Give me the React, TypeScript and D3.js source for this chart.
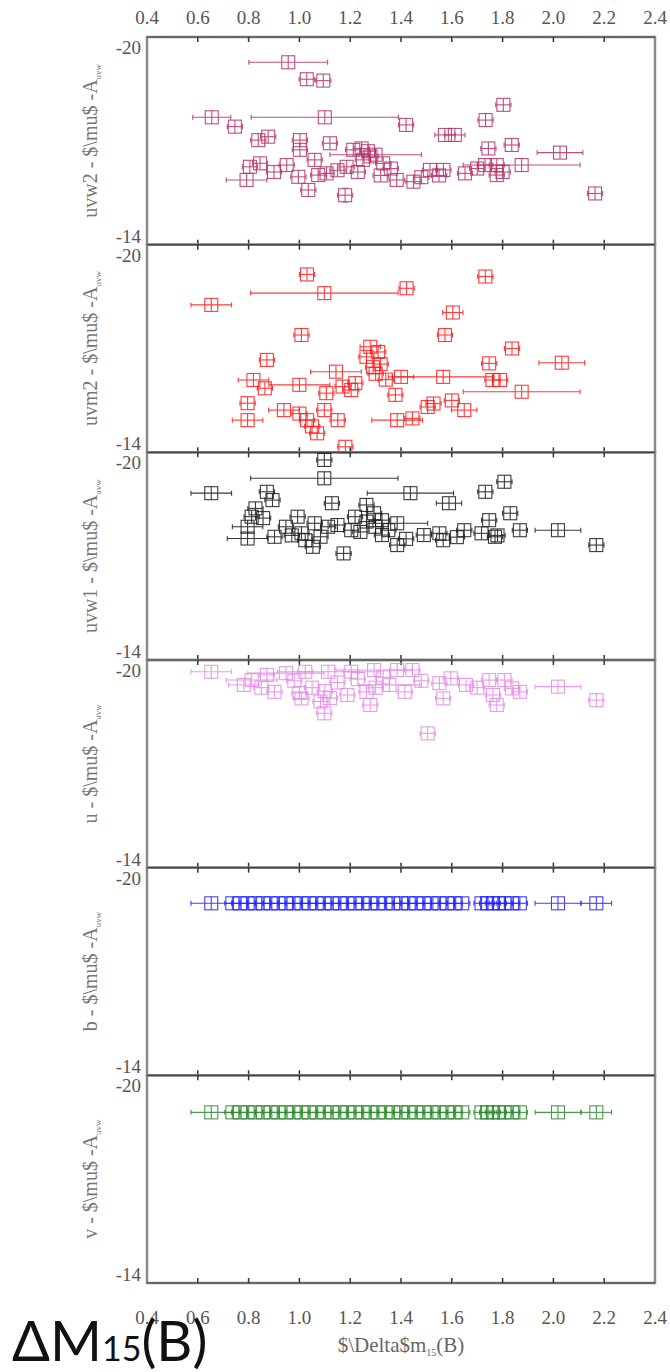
import React from "react";
import * as d3 from "d3";

// [dm15(B), mag, dm15 err, mag err]
type Pt = [number, number, number?, number?];

const xTicks = [0.4, 0.6, 0.8, 1.0, 1.2, 1.4, 1.6, 1.8, 2.0, 2.2, 2.4];
const yTicks = [-20, -14];

const uvw2Pts: Pt[] = [
  [0.956, -19.27, 0.155, 0.12], [1.029, -18.78], [1.094, -18.74], [0.655, -17.68, 0.075],
  [0.746, -17.41], [1.10, -17.68, 0.29], [1.42, -17.46], [1.803, -18.04], [1.733, -17.6, 0.03, 0.12],
  [1.573, -17.17, 0.04], [1.612, -17.17, 0.04], [1.836, -16.88], [1.744, -16.78], [2.026, -16.66, 0.09],
  [2.164, -15.48], [1.875, -16.3, 0.23], [1.777, -16.3], [1.731, -16.3], [1.777, -16.01, 0.03, 0.12],
  [1.652, -16.06], [1.567, -16.16], [1.514, -16.16], [1.449, -15.82], [1.383, -15.87], [1.18, -15.43, 0.03, 0.2],
  [1.245, -16.78], [1.30, -16.6, 0.18], [0.838, -17.02], [0.877, -17.12], [1.002, -17.02], [1.002, -16.74],
  [1.12, -16.93], [0.805, -16.25], [0.792, -15.87, 0.08], [0.845, -16.35], [0.95, -16.3], [0.996, -15.96],
  [1.035, -15.58], [1.074, -16.01], [1.107, -16.06], [1.186, -16.25], [1.212, -16.74], [1.25, -16.45],
  [1.28, -16.55], [1.33, -16.35], [1.36, -16.2], [1.15, -16.15], [1.06, -16.45], [1.23, -16.1],
  [0.9, -16.1], [1.48, -15.95], [1.55, -16.0], [1.70, -16.2], [1.80, -16.1], [1.27, -16.7], [1.32, -16.0],
];

const uvm2Pts: Pt[] = [
  [1.030, -19.14], [1.098, -18.6, 0.29], [1.422, -18.74], [0.653, -18.26, 0.08], [1.732, -19.08, 0.03, 0.15],
  [1.604, -18.04, 0.04], [1.573, -17.39], [1.008, -17.39], [0.872, -16.67], [1.279, -17.05, 0.04, 0.08],
  [1.837, -17.0], [2.033, -16.59, 0.09], [1.747, -16.57], [1.566, -16.18, 0.2], [1.76, -16.09], [1.79, -16.09],
  [1.875, -15.75, 0.23], [1.144, -16.33, 0.1], [1.264, -16.76], [1.29, -16.46], [1.30, -16.27], [1.40, -16.18, 0.05],
  [1.378, -15.66], [1.204, -15.8], [1.106, -15.71], [1.0, -15.95, 0.12], [0.819, -16.09, 0.06], [0.864, -15.85],
  [0.796, -15.42], [0.796, -14.93, 0.06], [0.939, -15.22, 0.06], [1.0, -15.12], [1.03, -14.93], [1.07, -14.55],
  [1.098, -15.22], [1.151, -14.93], [1.181, -14.16, 0.03, 0.1], [1.385, -14.93, 0.1], [1.445, -14.98],
  [1.505, -15.31], [1.528, -15.41], [1.649, -15.22, 0.05], [1.22, -16.0], [1.32, -16.55], [1.31, -16.9],
  [1.34, -16.1], [1.05, -14.75], [1.6, -15.5], [1.17, -15.9],
];

const uvw1Pts: Pt[] = [
  [1.098, -19.78], [1.098, -19.25, 0.29], [0.653, -18.82, 0.08], [0.872, -18.86], [0.894, -18.62],
  [1.437, -18.82, 0.17], [1.807, -19.15], [1.732, -18.86, 0.03, 0.1], [1.589, -18.53, 0.05], [1.83, -18.24],
  [2.018, -17.75, 0.09], [2.169, -17.32], [1.868, -17.75], [1.747, -18.04], [1.77, -17.56], [1.717, -17.66],
  [1.649, -17.75], [1.551, -17.66], [1.566, -17.46], [1.49, -17.61], [1.385, -17.32], [1.385, -17.95, 0.12],
  [1.264, -18.48], [1.294, -18.24], [1.325, -18.04], [1.264, -18.0], [1.219, -18.14], [1.204, -17.75],
  [1.174, -17.08, 0.03, 0.12], [1.128, -18.53], [1.113, -17.85], [1.083, -17.56], [1.053, -17.27],
  [0.993, -18.14], [1.008, -17.66], [1.023, -17.46], [0.947, -17.85], [0.827, -18.38], [0.812, -18.14],
  [0.796, -17.85, 0.06], [0.796, -17.51, 0.08], [0.857, -18.1], [0.902, -17.56], [1.325, -17.61],
  [1.15, -17.9], [1.24, -17.7], [1.3, -17.85], [1.35, -17.75], [1.06, -17.95], [0.97, -17.6], [1.42, -17.5],
  [1.62, -17.55], [1.78, -17.6],
];

const uPts: Pt[] = [
  [0.653, -19.66, 0.08], [1.596, -19.47], [1.566, -18.89], [2.018, -19.23, 0.09], [2.169, -18.84],
  [1.505, -17.88], [1.098, -18.46, 0.03, 0.1], [1.279, -18.7], [1.747, -19.42], [1.807, -19.42],
  [1.762, -18.99], [1.777, -18.7, 0.03, 0.1], [1.837, -19.18], [1.868, -19.08], [0.812, -19.42, 0.1],
  [0.872, -19.57], [0.947, -19.62, 0.15], [1.023, -19.66], [1.113, -19.66, 0.2], [1.204, -19.66],
  [1.294, -19.71, 0.15], [1.385, -19.71], [1.445, -19.71], [0.902, -19.08], [1.008, -18.89], [1.083, -18.8],
  [1.189, -18.99], [1.264, -19.08], [1.354, -19.28, 0.12], [1.415, -19.08], [1.656, -19.28], [1.551, -19.33],
  [0.781, -19.28, 0.06], [0.98, -19.4], [1.05, -19.2], [1.15, -19.35], [1.23, -19.45], [1.33, -19.5],
  [1.12, -18.9], [0.85, -19.2], [1.0, -19.05], [1.1, -19.1], [1.3, -19.2], [1.48, -19.4], [1.7, -19.2],
];

const bPts: Pt[] = [
  [0.653, -18.97, 0.08], [0.736, -18.97], [0.766, -18.97], [0.796, -18.97], [0.826, -18.97], [0.857, -18.97],
  [0.887, -18.97], [0.917, -18.97], [0.947, -18.97], [0.977, -18.97], [1.008, -18.97], [1.038, -18.97],
  [1.068, -18.97], [1.098, -18.97], [1.128, -18.97], [1.159, -18.97], [1.189, -18.97], [1.219, -18.97],
  [1.249, -18.97], [1.279, -18.97], [1.309, -18.97], [1.339, -18.97], [1.369, -18.97], [1.40, -18.97],
  [1.43, -18.97], [1.46, -18.97], [1.49, -18.97], [1.52, -18.97], [1.551, -18.97], [1.581, -18.97],
  [1.611, -18.97], [1.641, -18.97], [1.717, -18.97], [1.739, -18.97], [1.762, -18.97], [1.785, -18.97],
  [1.807, -18.97], [1.837, -18.97], [1.868, -18.97], [2.018, -18.97, 0.09], [2.169, -18.97, 0.06],
];

const vPts: Pt[] = [
  [0.653, -18.93, 0.08], [0.736, -18.93], [0.766, -18.93], [0.796, -18.93], [0.826, -18.93], [0.857, -18.93],
  [0.887, -18.93], [0.917, -18.93], [0.947, -18.93], [0.977, -18.93], [1.008, -18.93], [1.038, -18.93],
  [1.068, -18.93], [1.098, -18.93], [1.128, -18.93], [1.159, -18.93], [1.189, -18.93], [1.219, -18.93],
  [1.249, -18.93], [1.279, -18.93], [1.309, -18.93], [1.339, -18.93], [1.369, -18.93], [1.40, -18.93],
  [1.43, -18.93], [1.46, -18.93], [1.49, -18.93], [1.52, -18.93], [1.551, -18.93], [1.581, -18.93],
  [1.611, -18.93], [1.641, -18.93], [1.717, -18.93], [1.739, -18.93], [1.762, -18.93], [1.785, -18.93],
  [1.807, -18.93], [1.837, -18.93], [1.868, -18.93], [2.018, -18.93, 0.09], [2.169, -18.93, 0.06],
];

const panels = [
  { band: "uvw2", color: "#b5306a", pts: uvw2Pts },
  { band: "uvm2", color: "#ff1a1a", pts: uvm2Pts },
  { band: "uvw1", color: "#1a1a1a", pts: uvw1Pts },
  { band: "u", color: "#e58ae5", pts: uPts },
  { band: "b", color: "#1f1fff", pts: bPts },
  { band: "v", color: "#2a8a2a", pts: vPts },
];

const W = 670;
const H = 1372;
const left = 147;
const right = 655;
const top = 37;
const bottom = 1283;
const panelH = (bottom - top) / panels.length;
const serif = "'Liberation Serif', 'DejaVu Serif', serif";

const x = d3.scaleLinear().domain([0.4, 2.4]).range([left, right]);

const Marker = ({ p, y, color }: { p: Pt; y: d3.ScaleLinear<number, number>; color: string }) => {
  const [dm, mag, xe = 0.03, ye = 0.05] = p;
  const cx = x(dm);
  const cy = y(mag);
  const h = 6.5;
  const x0 = Math.min(x(dm - xe), cx - h);
  const x1 = Math.max(x(dm + xe), cx + h);
  const y0 = Math.min(y(mag - ye), cy - h);
  const y1 = Math.max(y(mag + ye), cy + h);
  return (
    <g stroke={color} fill="none" strokeWidth={1.1} opacity={0.85}>
      <rect x={cx - h} y={cy - h} width={2 * h} height={2 * h} />
      <line x1={x0} x2={x1} y1={cy} y2={cy} />
      <line x1={cx} x2={cx} y1={y0} y2={y1} />
      {x0 < cx - h && <line x1={x0} x2={x0} y1={cy - 2.5} y2={cy + 2.5} />}
      {x1 > cx + h && <line x1={x1} x2={x1} y1={cy - 2.5} y2={cy + 2.5} />}
      {y0 < cy - h && <line x1={cx - 2.5} x2={cx + 2.5} y1={y0} y2={y0} />}
      {y1 > cy + h && <line x1={cx - 2.5} x2={cx + 2.5} y1={y1} y2={y1} />}
    </g>
  );
};

export default function App() {
  return (
    <div style={{ position: "absolute", left: 0, top: 0 }}>
      <svg width={W} height={H} style={{ display: "block", background: "#fff" }}>
        {/* top tick labels */}
        {xTicks.map((t) => (
          <text key={"tt" + t} x={x(t)} y={24} textAnchor="middle" fontFamily={serif} fontSize={19} fill="#555">
            {t.toFixed(1)}
          </text>
        ))}
        {panels.map((pn, i) => {
          const t0 = top + i * panelH;
          const y = d3.scaleLinear().domain([-20, -14]).range([t0, t0 + panelH]);
          const cy = t0 + panelH / 2;
          return (
            <g key={pn.band}>
              <rect x={left} y={t0} width={right - left} height={panelH} fill="none" stroke="#8a8a8a" strokeWidth={2.5} />
              <line x1={left} x2={right} y1={t0} y2={t0} stroke="#444" strokeWidth={1.2} />
              <line x1={left} x2={right} y1={t0 + panelH} y2={t0 + panelH} stroke="#444" strokeWidth={1.2} />
              {xTicks.slice(1, -1).map((t) => (
                <g key={t} stroke="#333" strokeWidth={1.5}>
                  <line x1={x(t)} x2={x(t)} y1={t0} y2={t0 + 5} />
                  <line x1={x(t)} x2={x(t)} y1={t0 + panelH} y2={t0 + panelH - 5} />
                </g>
              ))}
              {yTicks.map((v) => (
                <text
                  key={v}
                  x={141}
                  y={v === -20 ? y(v) + 17 : y(v) - 2}
                  textAnchor="end"
                  fontFamily={serif}
                  fontSize={19}
                  fill="#555"
                >
                  {v}
                </text>
              ))}
              <text
                transform={`translate(97,${cy}) rotate(-90)`}
                textAnchor="middle"
                fontFamily={serif}
                fontSize={20}
                fill="#777"
              >
                {pn.band} - $\mu$ -A
                <tspan fontSize={9} dy={4}>uvw</tspan>
              </text>
              {pn.pts.map((p, j) => (
                <Marker key={j} p={p} y={y} color={pn.color} />
              ))}
            </g>
          );
        })}
        {/* bottom tick labels */}
        {xTicks.map((t) => (
          <text key={"bt" + t} x={x(t)} y={1324} textAnchor="middle" fontFamily={serif} fontSize={19} fill="#555">
            {t.toFixed(1)}
          </text>
        ))}
        <text x={(left + right) / 2} y={1352} textAnchor="middle" fontFamily={serif} fontSize={21} fill="#666">
          $\Delta$m<tspan fontSize={10} dy={4}>15</tspan>
          <tspan dy={-4}>(B)</tspan>
        </text>
        <text x={12} y={1361} fontFamily="Lato, 'Open Sans', sans-serif" fontSize={56} fill="#111">
          ΔM<tspan fontSize={34}>15</tspan>(B)
        </text>
      </svg>
    </div>
  );
}
